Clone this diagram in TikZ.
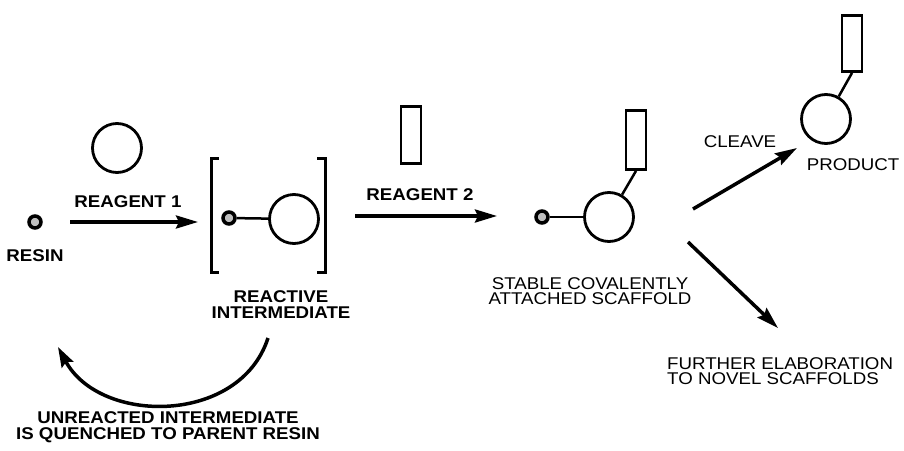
\documentclass[tikz,border=0pt]{standalone}
\usepackage{fontspec}
\setmainfont{Liberation Sans}[FakeStretch=1.1]
\usetikzlibrary{arrows.meta}
\begin{document}
\begin{tikzpicture}[x=1pt,y=-1pt,
  lbl/.style={font=\fontsize{17}{15.5}\selectfont\bfseries, inner sep=0pt, align=center},
  lblr/.style={font=\fontsize{17}{15.5}\selectfont, inner sep=0pt, align=center},
  ring/.style={circle, draw, line width=2.8pt, minimum size=49pt, inner sep=0pt},
  bead/.style={circle, draw, line width=3.5pt, fill=gray!50, minimum size=12pt, inner sep=0pt},
  block/.style={rectangle, draw, line width=2.8pt, minimum width=20pt, minimum height=57pt, inner sep=0pt},
  bond/.style={line width=2.5pt},
  flow/.style={line width=3.5pt, -{Stealth[length=22pt,width=13pt,inset=3pt]}},
  brk/.style={line width=3pt}]
\fill[white] (0,0) rectangle (904,450);
\useasboundingbox (0,0) rectangle (904,450);

% resin and reagent 1
\node[bead] (resin) at (35,222) {};
\node[lbl] (resinlbl) at (35,255.5) {RESIN};
\node[ring] (r1) at (117,148) {};
\node[lbl] (r1lbl) at (128,201.5) {REAGENT 1};
\coordinate (a1s) at (70,222);
\coordinate (a1e) at (198,222);
\draw[flow] (a1s) -- (a1e);

% reactive intermediate
\draw[brk] (219,158) -- (211,158) -- (211,272) -- (219,272);
\draw[brk] (317,158) -- (325,158) -- (325,272) -- (317,272);
\node[bead] (ibead) at (229,218) {};
\node[ring] (iring) at (294,219) {};
\draw[bond] (ibead) -- (iring);
\node[lbl] (intlbl) at (281,304.5) {REACTIVE\\INTERMEDIATE};

% reagent 2
\node[block] (r2) at (411,135) {};
\node[lbl] (r2lbl) at (420,194.5) {REAGENT 2};
\coordinate (a2s) at (355,216);
\coordinate (a2e) at (497,216);
\draw[flow] (a2s) -- (a2e);

% scaffold
\node[bead] (sbead) at (542,217) {};
\node[ring] (sring) at (609,217) {};
\node[block, minimum height=59pt] (sblock) at (636,140) {};
\draw[bond] (sbead) -- (sring);
\draw[bond] (sring) -- (sblock.south);
\node[lblr] (slbl) at (590,291) {STABLE COVALENTLY\\ATTACHED SCAFFOLD};

% cleave / product
\coordinate (cs) at (693,209);
\coordinate (ce) at (797,148);
\draw[flow] (cs) -- (ce);
\node[lblr] (cleave) at (740,142) {CLEAVE};
\node[ring] (pring) at (826,119) {};
\node[block, minimum height=56pt] (pblock) at (852,43.5) {};
\draw[bond] (pring) -- (pblock.south);
\node[lblr] (plbl) at (853,165) {PRODUCT};

% further elaboration
\coordinate (fs) at (688,242);
\coordinate (fe) at (778,328);
\draw[flow] (fs) -- (fe);
\node[lblr, anchor=west, align=left] (flbl) at (667,371) {FURTHER ELABORATION\\TO NOVEL SCAFFOLDS};

% quench loop
\coordinate (qs) at (268,338);
\coordinate (qe) at (58,347);
\draw[line width=3.5pt, -{Stealth[length=20pt,width=13pt,inset=3pt]}]
  (qs) .. controls (240,425) and (100,425) .. (qe);
\node[lbl] (qlbl) at (168,427) {UNREACTED INTERMEDIATE\\IS QUENCHED TO PARENT RESIN};
\end{tikzpicture}
\end{document}
